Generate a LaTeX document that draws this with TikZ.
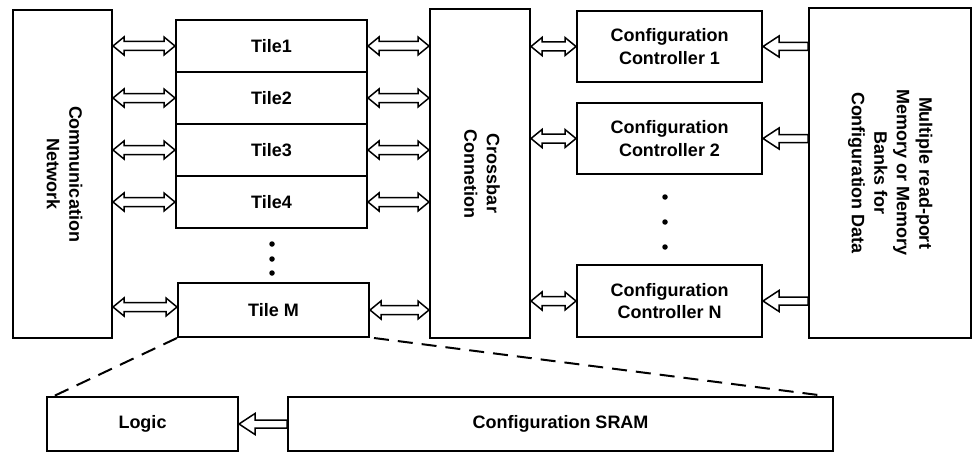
\documentclass[tikz,border=0pt]{standalone}
\usepackage{fontspec}
\setmainfont{Liberation Sans}
\usetikzlibrary{calc}

\tikzset{
  blk/.style={draw, line width=2pt, rectangle, inner sep=0pt, align=center,
    font=\bfseries\fontsize{18}{22.5}\selectfont},
  arr/.style={draw, line width=1.5pt, fill=white, line join=miter},
  zoomline/.style={line width=2pt, dash pattern=on 15pt off 9pt},
  dot/.style={fill=black, circle, inner sep=0pt, minimum size=5.5pt},
}

% open double-headed arrow: start box edge (#1), target box edge (#2), on the target's height
\newcommand\linkboth[2]{%
  \draw[arr] let \p1=(#1), \p2=(#2) in
    (\x1,\y2) -- (\x1+11pt,\y2+9pt) -- (\x1+11pt,\y2+4.5pt)
    -- (\x2-11pt,\y2+4.5pt) -- (\x2-11pt,\y2+9pt) -- (\x2,\y2)
    -- (\x2-11pt,\y2-9pt) -- (\x2-11pt,\y2-4.5pt)
    -- (\x1+11pt,\y2-4.5pt) -- (\x1+11pt,\y2-9pt) -- cycle;}

% open single-headed arrow pointing left: from (#1) into (#2)
\newcommand\linkone[2]{%
  \draw[arr] let \p1=(#1), \p2=(#2) in
    (\x2,\y2) -- (\x2+16pt,\y2+10.5pt) -- (\x2+16pt,\y2+4pt)
    -- (\x1,\y2+4pt) -- (\x1,\y2-4pt) -- (\x2+16pt,\y2-4pt)
    -- (\x2+16pt,\y2-10.5pt) -- cycle;}

\begin{document}
\begin{tikzpicture}[x=1pt, y=-1pt]
\useasboundingbox (0,0) rectangle (973,452);

% left column
\node[blk, minimum width=99pt, minimum height=328pt] (comm) at (62.5,174)
  {\rotatebox{-90}{\begin{tabular}{c}Communication\\Network\end{tabular}}};

% tiles
\node[blk, minimum width=191pt, minimum height=52pt] (t1) at (271.5,46) {Tile1};
\node[blk, minimum width=191pt, minimum height=52pt] (t2) at (271.5,98) {Tile2};
\node[blk, minimum width=191pt, minimum height=52pt] (t3) at (271.5,150) {Tile3};
\node[blk, minimum width=191pt, minimum height=52pt] (t4) at (271.5,202) {Tile4};
\node[blk, minimum width=191pt, minimum height=54pt] (tm) at (273.5,310) {Tile M};
\node[dot] (td1) at (272,244) {};
\node[dot] (td2) at (272,259) {};
\node[dot] (td3) at (272,273) {};

% crossbar
\node[blk, minimum width=100pt, minimum height=329pt] (xbar) at (480,173.5)
  {\rotatebox{-90}{\begin{tabular}{c}Crossbar\\Connetion\end{tabular}}};

% configuration controllers
\node[blk, minimum width=185pt, minimum height=71pt] (cc1) at (669.5,46.5)
  {Configuration\\Controller 1};
\node[blk, minimum width=185pt, minimum height=71pt] (cc2) at (669.5,138.5)
  {Configuration\\Controller 2};
\node[blk, minimum width=185pt, minimum height=72pt] (ccn) at (669.5,301)
  {Configuration\\Controller N};
\node[dot] (cd1) at (665,197) {};
\node[dot] (cd2) at (665,222) {};
\node[dot] (cd3) at (665,247) {};

% configuration memory
\node[blk, minimum width=162pt, minimum height=330pt] (mem) at (890,173)
  {\rotatebox{-90}{\begin{tabular}{c}Multiple read-port\\Memory or Memory\\Banks for\\Configuration Data\end{tabular}}};

% tile internals
\node[blk, minimum width=191pt, minimum height=54pt] (logic) at (142.5,424) {Logic};
\node[blk, minimum width=545pt, minimum height=54pt] (sram) at (560.5,424) {Configuration SRAM};

% network <-> tiles
\linkboth{comm.east}{t1.west}
\linkboth{comm.east}{t2.west}
\linkboth{comm.east}{t3.west}
\linkboth{comm.east}{t4.west}
\linkboth{comm.east}{[yshift=3pt]tm.west}

% tiles <-> crossbar
\linkboth{t1.east}{t1 -| xbar.west}
\linkboth{t2.east}{t2 -| xbar.west}
\linkboth{t3.east}{t3 -| xbar.west}
\linkboth{t4.east}{t4 -| xbar.west}
\linkboth{tm.east}{tm -| xbar.west}

% crossbar <-> controllers
\linkboth{xbar.east}{cc1.west}
\linkboth{xbar.east}{cc2.west}
\linkboth{xbar.east}{ccn.west}

% memory -> controllers
\linkone{mem.west}{cc1.east}
\linkone{mem.west}{cc2.east}
\linkone{mem.west}{ccn.east}

% SRAM -> logic
\linkone{sram.west}{logic.east}

% zoom-in guide lines
\draw[zoomline] (tm.south west) -- ([xshift=8pt]logic.north west);
\draw[zoomline] ([xshift=4pt]tm.south east) -- ([xshift=-8pt]sram.north east);
\end{tikzpicture}
\end{document}
